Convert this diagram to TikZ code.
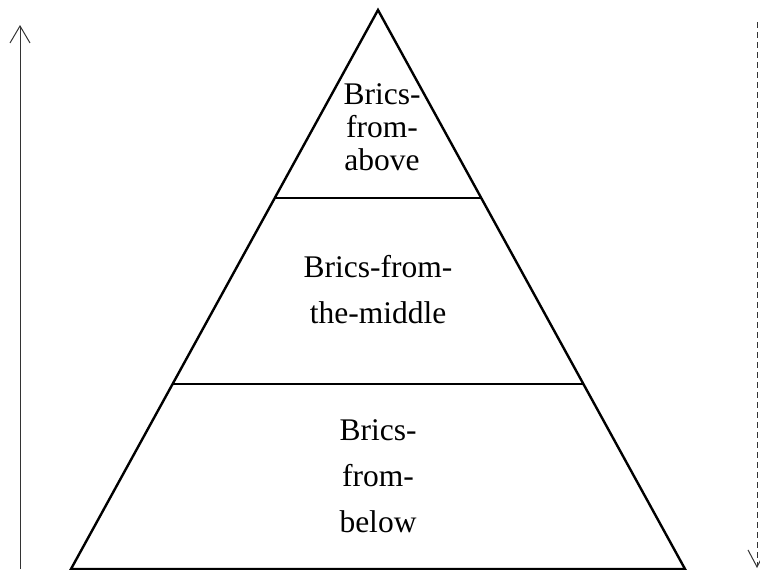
\documentclass[tikz,border=0pt]{standalone}
\usepackage{fontspec}
\setmainfont{Liberation Serif}
\usetikzlibrary{calc,arrows.meta}
\tikzset{
  layer/.style={draw=black, line width=2.4pt},
  lbl/.style={align=center, inner sep=0pt},
  toptext/.style={lbl, font=\fontsize{31.5}{33}\selectfont},
  bigtext/.style={lbl, font=\fontsize{31.5}{46}\selectfont},
  updir/.style={draw=black!80, line width=1pt, -{Straight Barb[length=17pt,width=20pt,line width=1pt]}},
  downdir/.style={draw=black!80, line width=1pt, dash pattern=on 6pt off 4pt, -{Straight Barb[length=17pt,width=18pt,line width=1pt]}}
}
\begin{document}
\begin{tikzpicture}[x=1pt,y=-1pt]
\useasboundingbox (0,0) rectangle (760,570);
\coordinate (apex) at (378,10);
\coordinate (bl) at (71,569);
\coordinate (br) at (685,569);
\coordinate (d1l) at ($(apex)!0.336!(bl)$);
\coordinate (d1r) at ($(apex)!0.336!(br)$);
\coordinate (d2l) at ($(apex)!0.669!(bl)$);
\coordinate (d2r) at ($(apex)!0.669!(br)$);
\draw[layer] (apex) -- (bl) -- (br) -- cycle;
\draw[layer] (d1l) -- (d1r);
\draw[layer] (d2l) -- (d2r);
\node[toptext, anchor=base] (above) at (382,170) {Brics-\\from-\\above};
\node[bigtext, anchor=base] (middle) at (378,323) {Brics-from-\\the-middle};
\node[bigtext, anchor=base] (below) at (378,532) {Brics-\\from-\\below};
\coordinate (ub) at (20,569);
\coordinate (ut) at (20,25);
\coordinate (dt) at (757,22);
\coordinate (db) at (757,568);
\draw[updir] (ub) -- (ut);
\draw[downdir] (dt) -- (db);
\end{tikzpicture}
\end{document}
